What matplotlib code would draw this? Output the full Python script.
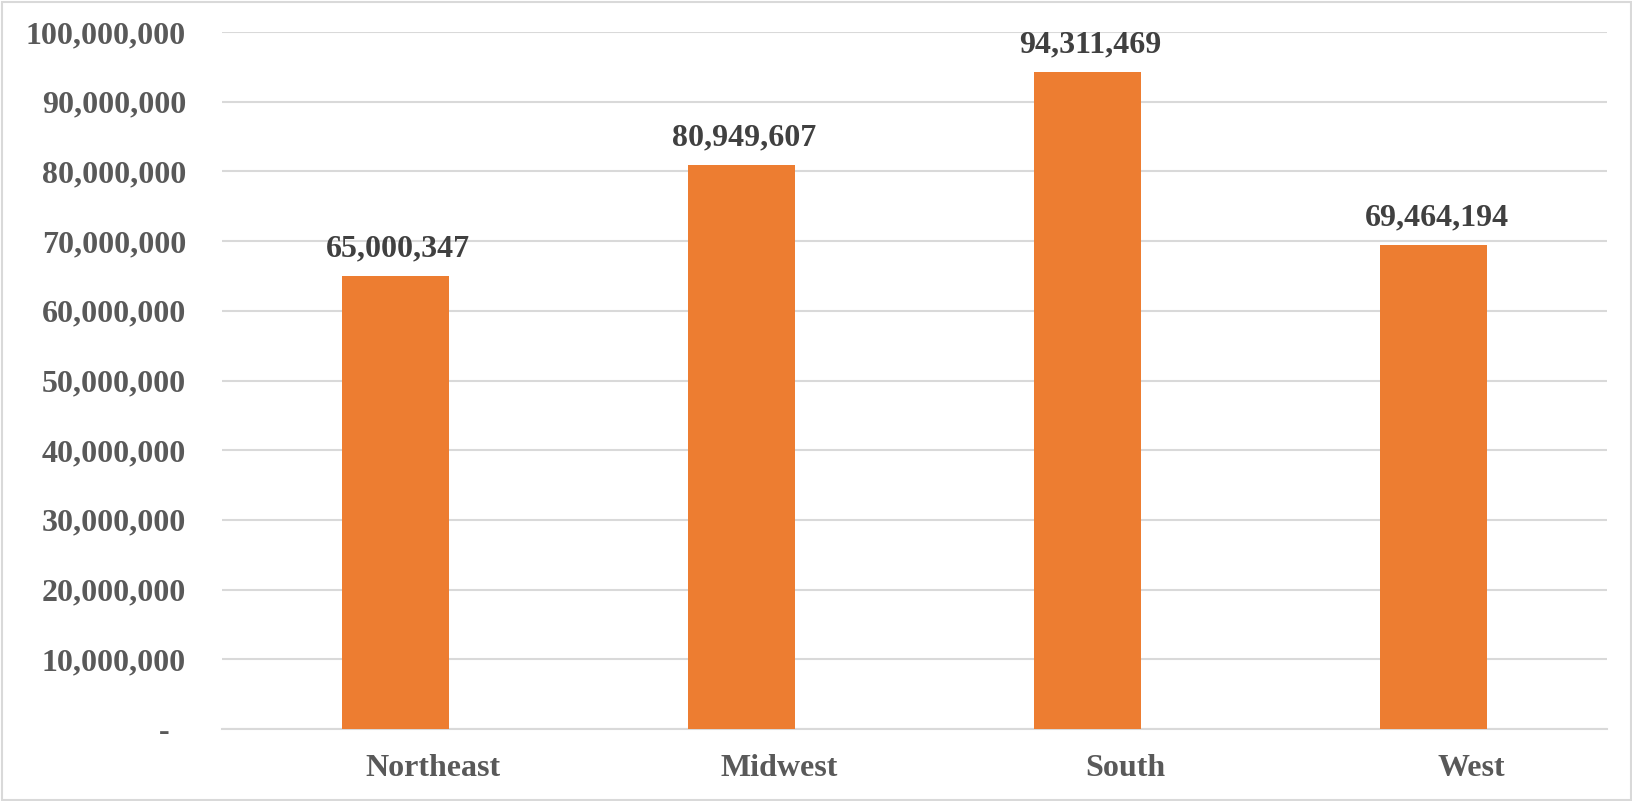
import matplotlib.pyplot as plt
import matplotlib.transforms as mtransforms
from matplotlib.patches import Rectangle

regions = ["Northeast", "Midwest", "South", "West"]
population = [65000347, 80949607, 94311469, 69464194]
tick_values = list(range(0, 100000001, 10000000))
tick_labels = ["-  "] + ["{:,}".format(v) for v in tick_values[1:]]

plt.rcParams['font.family'] = ['Liberation Serif', 'DejaVu Serif']
plt.rcParams['font.weight'] = 'bold'

fig = plt.figure(figsize=(16.33, 8.01), dpi=100)
ax = fig.add_axes([0.136, 0.0899, 0.848, 0.8701])

x = range(len(regions))
ax.bar(x, population, width=0.31, color="#ED7D31", zorder=3)

for i, v in enumerate(population):
	ax.annotate("{:,}".format(v), (i, v), xytext=(2, 9), textcoords="offset points",
		ha="center", va="bottom", fontsize=23, fontweight="bold", color="#404040")

ax.set_xlim(-0.5, len(regions) - 0.5)
ax.set_ylim(0, 100000000)
ax.set_yticks(tick_values)
ax.set_yticklabels(tick_labels)
ax.set_xticks(list(x))
ax.set_xticklabels(regions)
ax.tick_params(axis="y", length=0, pad=26, labelsize=23, labelcolor="#595959")
ax.tick_params(axis="x", length=0, pad=18, labelsize=23, labelcolor="#595959")
for lab in ax.get_xticklabels() + ax.get_yticklabels():
	lab.set_fontweight("bold")

# category labels sit a bit right of the bars in the original
shift = mtransforms.ScaledTranslation(0.38, 0, fig.dpi_scale_trans)
for lab in ax.get_xticklabels():
	lab.set_transform(lab.get_transform() + shift)

ax.grid(axis="y", color="#d9d9d9", linewidth=1.5, zorder=0)
for side in ["left", "right", "top"]:
	ax.spines[side].set_visible(False)
ax.spines["bottom"].set_color("#d9d9d9")
ax.spines["bottom"].set_linewidth(1.5)

# thin frame round the whole chart
fig.patches.append(Rectangle((0.001, 0.001), 0.998, 0.997, transform=fig.transFigure,
	fill=False, edgecolor="#d9d9d9", linewidth=1.5))

fig.savefig("out.png", dpi=100)
